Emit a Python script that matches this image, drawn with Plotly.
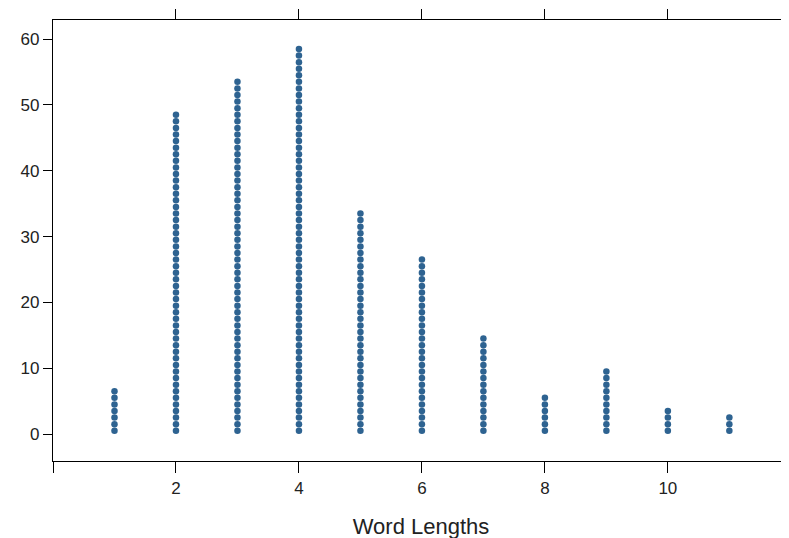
import plotly.graph_objects as go

# word length -> number of words
word_lengths = [1, 2, 3, 4, 5, 6, 7, 8, 9, 10, 11]
counts = [7, 49, 54, 59, 34, 27, 15, 6, 10, 4, 3]

x_ticks = [0, 2, 4, 6, 8, 10]
x_tick_labels = ["", "2", "4", "6", "8", "10"]
y_ticks = [0, 10, 20, 30, 40, 50, 60]

# stack one dot per word
xs, ys = [], []
for length, n in zip(word_lengths, counts):
    for i in range(n):
        xs.append(length)
        ys.append(i + 0.5)

fig = go.Figure()
fig.add_trace(go.Scatter(
    x=xs, y=ys, mode="markers",
    marker=dict(size=6.5, color="#2e6391", line=dict(width=0)),
    showlegend=False,
))
# dummy trace for the top axis
fig.add_trace(go.Scatter(x=[None], y=[None], xaxis="x2", showlegend=False))

# page body has an 8px default margin, so margins are offset by 8
font = "Liberation Sans, Arial, sans-serif"
fig.update_layout(
    width=789, height=538,
    margin=dict(l=45, r=8, t=12, b=85),
    plot_bgcolor="white", paper_bgcolor="white",
    font=dict(family=font, size=17, color="#222"),
    xaxis=dict(
        range=[0, 11.97], showgrid=False, zeroline=False, automargin=False,
        showline=True, linecolor="black", linewidth=1.2,
        ticks="outside", ticklen=11, tickcolor="black", tickwidth=1.2,
        tickvals=x_ticks, ticktext=x_tick_labels,
        title=dict(text="Word Lengths", font=dict(size=22), standoff=22),
    ),
    xaxis2=dict(
        range=[0, 11.97], overlaying="x", side="top", showgrid=False,
        zeroline=False, showline=True, linecolor="black", linewidth=1.2,
        ticks="outside", ticklen=10, tickcolor="black", tickwidth=1.2,
        tickvals=x_ticks[1:], showticklabels=False, automargin=False,
    ),
    yaxis=dict(
        range=[-4.1, 62.9], showgrid=False, zeroline=False, automargin=False,
        showline=True, linecolor="black", linewidth=1.2,
        ticks="outside", ticklen=9, tickcolor="black", tickwidth=1.2,
        tickvals=y_ticks,
    ),
)

fig.write_html("out.html")
